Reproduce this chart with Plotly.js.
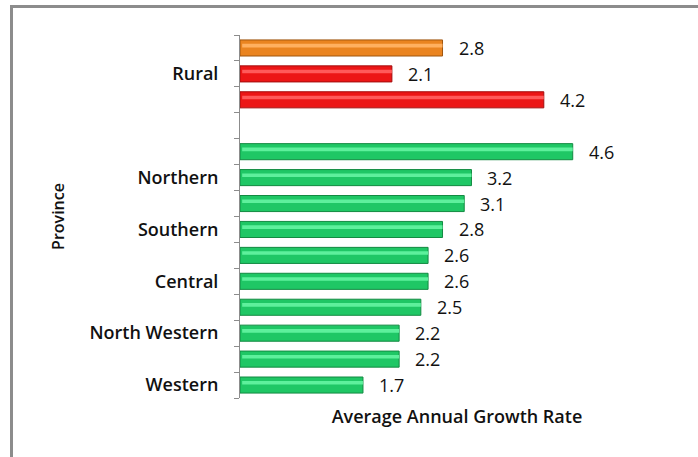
<!DOCTYPE html>
<html>
<head>
<meta charset="utf-8">
<script src="https://cdn.plot.ly/plotly-3.0.1.min.js"></script>
<style>
    body { margin: 0; background: #fff; }
    #frame {
        position: absolute; left: 10px; top: 5px; width: 720px; height: 470px;
        border-left: 3px solid #8c8c8c; border-top: 3px solid #8c8c8c;
    }
    #chart { position: absolute; left: 0; top: 0; width: 698px; height: 457px; }
</style>
</head>
<body>
<div id="frame"></div>
<div id="chart"></div>
<script>
// bottom to top, labels only where the original shows one
const categories = ['Western', '', 'North Western', '', 'Central', '', 'Southern', '', 'Northern', '', '', '', 'Rural', ''];
const values = [1.7, 2.2, 2.2, 2.5, 2.6, 2.6, 2.8, 3.1, 3.2, 4.6, null, 4.2, 2.1, 2.8];
const groups = ['prov', 'prov', 'prov', 'prov', 'prov', 'prov', 'prov', 'prov', 'prov', 'prov', 'none', 'red', 'red', 'orange'];

const fill = { prov: '#1fc765', red: '#ec1616', orange: '#ea8420', none: '#fff' };
const shine = { prov: '#5ef09c', red: '#ff5a5a', orange: '#ffb060', none: '#fff' };
const edge = { prov: '#138a42', red: '#a30d0d', orange: '#a0560e', none: '#fff' };

const pos = values.map((v, i) => i);
const tickvals = pos.filter(i => categories[i] !== '');
const ticktext = tickvals.map(i => categories[i]);

const font = '"Open Sans", Lato, sans-serif';

const bars = {
    type: 'bar',
    orientation: 'h',
    x: values,
    y: pos,
    width: 0.62,
    marker: {
        color: groups.map(g => fill[g]),
        line: { color: groups.map(g => edge[g]), width: 1 }
    },
    hoverinfo: 'x'
};

// light band across the upper half of each bar
const highlight = {
    type: 'bar',
    orientation: 'h',
    x: values.map(v => v === null ? null : v - 0.03),
    y: pos,
    base: 0.03,
    width: 0.14,
    offset: 0.02,
    marker: { color: groups.map(g => shine[g]), line: { width: 0 } },
    hoverinfo: 'skip'
};

const annotations = [];
values.forEach((v, i) => {
    if (v === null) return;
    annotations.push({
        x: v, y: i, xref: 'x', yref: 'y',
        text: v.toFixed(1),
        showarrow: false,
        xanchor: 'left',
        xshift: 14,
        font: { family: font, size: 18, color: '#111' }
    });
});

const layout = {
    width: 698,
    height: 457,
    margin: { l: 240, r: 24, t: 35, b: 59 },
    paper_bgcolor: 'rgba(0,0,0,0)',
    plot_bgcolor: 'rgba(0,0,0,0)',
    barmode: 'overlay',
    showlegend: false,
    font: { family: font, color: '#111' },
    xaxis: {
        range: [0, 6],
        showgrid: false,
        zeroline: false,
        showline: false,
        showticklabels: false,
        ticks: '',
        title: { text: 'Average Annual Growth Rate', font: { size: 18, color: '#111', weight: 600 }, standoff: 12 }
    },
    yaxis: {
        range: [-0.5, 13.5],
        showgrid: false,
        zeroline: false,
        showline: true,
        linecolor: '#8c8c8c',
        linewidth: 1,
        tickmode: 'array',
        tickvals: tickvals,
        ticktext: ticktext,
        ticks: '',
        ticklabelstandoff: 17,
        tickfont: { size: 18, color: '#111', weight: 600 },
        minor: { tickmode: 'linear', tick0: -0.5, dtick: 1, ticks: 'outside', ticklen: 5, tickcolor: '#8c8c8c', tickwidth: 1 },
        title: { text: 'Province', font: { size: 16, color: '#111', weight: 600 }, standoff: 20 }
    },
    annotations: annotations
};

Plotly.newPlot('chart', [bars, highlight], layout, { displayModeBar: false, staticPlot: true });
</script>
</body>
</html>
